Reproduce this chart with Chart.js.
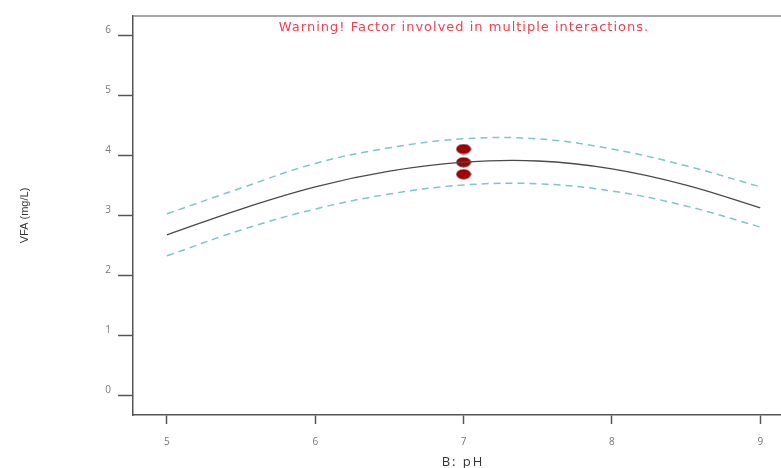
<!DOCTYPE html>
<html>
<head>
<meta charset="utf-8">
<script src="https://cdn.jsdelivr.net/npm/chart.js@4.4.1/dist/chart.umd.min.js"></script>
<style>
  html, body { margin: 0; padding: 0; background: #fff; }
  #wrap { width: 781px; height: 468px; }
</style>
</head>
<body>
<div id="wrap"><canvas id="chart" width="781" height="468"></canvas></div>
<script>
/* ---- data ---- */
const phValues = [5, 5.5, 6, 6.5, 7, 7.5, 8, 8.5, 9];
const vfaPredicted = [2.67, 3.10, 3.47, 3.73, 3.88, 3.90, 3.77, 3.50, 3.12];
const vfaUpper = [3.02, 3.45, 3.86, 4.12, 4.27, 4.27, 4.10, 3.82, 3.47];
const vfaLower = [2.32, 2.75, 3.10, 3.35, 3.50, 3.52, 3.40, 3.15, 2.80];
const observedPh = [7, 7, 7];
const observedVfa = [4.10, 3.88, 3.68];
const xTicks = [5, 6, 7, 8, 9];
const yTicks = [0, 1, 2, 3, 4, 5, 6];
const warningText = "Warning! Factor involved in multiple interactions.";
const xTitle = "B: pH";

/* ---- styling ---- */
const axisColor = "#555";
const tickTextColor = "#777";
const ciColor = "#7fc6c6";
const meanColor = "#4a4a4a";

// ellipse marker for the observed runs
function makeEllipse(w, h) {
    const c = document.createElement("canvas");
    c.width = w + 2;
    c.height = h + 2;
    const g = c.getContext("2d");
    g.beginPath();
    g.ellipse(c.width / 2, c.height / 2, w / 2, h / 2, 0, 0, Math.PI * 2);
    g.fillStyle = "#a80000";
    g.fill();
    g.lineWidth = 1;
    g.strokeStyle = "#5e0000";
    g.stroke();
    return c;
}

const toXY = (xs, ys) => xs.map((x, i) => ({ x, y: ys[i] }));

// top frame line, warning note and the (letter-spaced) x title
const framePlugin = {
    id: "framePlugin",
    afterDraw(chart) {
        const { ctx, chartArea } = chart;
        ctx.save();
        ctx.strokeStyle = "#8a8a8a";
        ctx.lineWidth = 1.5;
        ctx.beginPath();
        ctx.moveTo(chartArea.left, chartArea.top);
        ctx.lineTo(chartArea.right, chartArea.top);
        ctx.stroke();

        ctx.textAlign = "center";
        ctx.textBaseline = "middle";
        ctx.letterSpacing = "1px";
        ctx.font = "13px 'DejaVu Sans', sans-serif";
        ctx.fillStyle = "#f2404f";
        ctx.fillText(warningText, 464, 28);

        ctx.letterSpacing = "2px";
        ctx.font = "13px 'Open Sans', sans-serif";
        ctx.fillStyle = "#333";
        ctx.fillText(xTitle, 463, 462);
        ctx.restore();
    }
};

new Chart(document.getElementById("chart"), {
    type: "line",
    data: {
        datasets: [
            {
                label: "Upper",
                data: toXY(phValues, vfaUpper),
                borderColor: ciColor,
                borderWidth: 1.5,
                borderDash: [7, 5],
                pointRadius: 0,
                tension: 0.4
            },
            {
                label: "Lower",
                data: toXY(phValues, vfaLower),
                borderColor: ciColor,
                borderWidth: 1.5,
                borderDash: [7, 5],
                pointRadius: 0,
                tension: 0.4
            },
            {
                label: "Predicted",
                data: toXY(phValues, vfaPredicted),
                borderColor: meanColor,
                borderWidth: 1.3,
                pointRadius: 0,
                tension: 0.4
            },
            {
                label: "Observed",
                type: "scatter",
                data: toXY(observedPh, observedVfa),
                pointStyle: makeEllipse(14, 9),
                pointRadius: 7
            }
        ]
    },
    options: {
        responsive: false,
        animation: false,
        layout: { autoPadding: false, padding: { top: 16, left: 0, right: 0, bottom: 0 } },
        plugins: {
            legend: { display: false },
            tooltip: { enabled: false }
        },
        scales: {
            x: {
                type: "linear",
                min: 4.771,
                max: 9.14,
                afterFit(scale) {
                    scale.height = 53;
                    scale.paddingLeft = 0;
                    scale.paddingRight = 0;
                },
                afterBuildTicks(scale) { scale.ticks = xTicks.map(v => ({ value: v })); },
                border: { color: axisColor, width: 1.5 },
                grid: { drawOnChartArea: false, tickLength: 9, tickColor: axisColor, tickWidth: 1.5 },
                ticks: {
                    padding: 12,
                    color: tickTextColor,
                    font: { family: "'Open Sans', sans-serif", size: 10 }
                }
            },
            y: {
                min: -0.333,
                max: 6.317,
                afterFit(scale) {
                    scale.width = 133;
                    scale.paddingTop = 0;
                    scale.paddingBottom = 0;
                },
                afterBuildTicks(scale) { scale.ticks = yTicks.map(v => ({ value: v })); },
                border: { color: axisColor, width: 1.5 },
                grid: { drawOnChartArea: false, tickLength: 15, tickColor: axisColor, tickWidth: 1.5 },
                ticks: {
                    padding: 7,
                    labelOffset: -4.5,
                    color: tickTextColor,
                    font: { family: "'Open Sans', sans-serif", size: 10 }
                },
                title: {
                    display: true,
                    text: "VFA (mg/L)",
                    color: "#333",
                    padding: { top: 19, bottom: 0 },
                    font: { family: "'Liberation Sans', sans-serif", size: 11, lineHeight: 1 }
                }
            }
        }
    },
    plugins: [framePlugin]
});
</script>
</body>
</html>
